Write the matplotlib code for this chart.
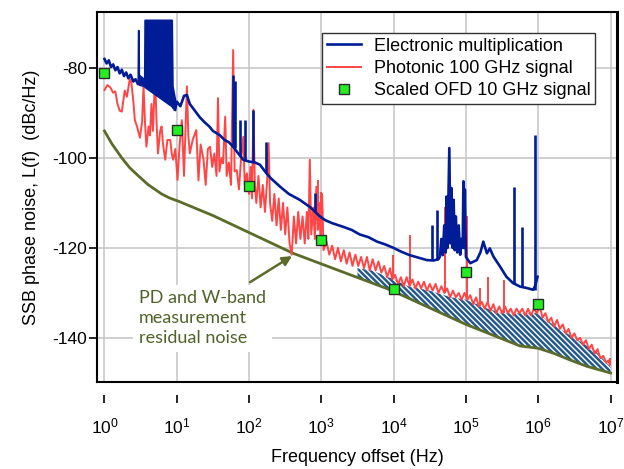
import numpy as np
import matplotlib
matplotlib.use("Agg")
import matplotlib.pyplot as plt

plt.rcParams['font.family'] = ['Liberation Sans', 'DejaVu Sans']
plt.rcParams['mathtext.fontset'] = 'custom'
plt.rcParams['mathtext.rm'] = 'Liberation Sans'
plt.rcParams['mathtext.it'] = 'Liberation Sans:italic'
plt.rcParams['axes.unicode_minus'] = False
plt.rcParams['hatch.linewidth'] = 1.8

# ---- data (log10 of offset frequency in Hz, phase noise in dBc/Hz) ----
blue_logf = [0.00, 0.03, 0.06, 0.09, 0.12, 0.15, 0.18, 0.21, 0.24, 0.27, 0.30, 0.33, 0.36, 0.40, 0.43, 0.46,
             0.975, 1.00, 1.05, 1.10, 1.14, 1.18, 1.25, 1.32, 1.40, 1.45, 1.50, 1.55, 1.60, 1.66, 1.72, 1.78,
             1.85, 1.92, 2.00, 2.08, 2.15, 2.24, 2.30, 2.43, 2.55, 2.70, 2.85, 2.98, 3.05, 3.15, 3.30, 3.42,
             3.53, 3.65, 3.77, 3.88, 4.00, 4.10, 4.22, 4.35, 4.46, 4.55, 4.62, 4.64, 4.66, 4.68, 4.70, 4.72,
             4.73, 4.745, 4.77, 4.785, 4.80, 4.815, 4.83, 4.845, 4.86, 4.88, 4.90, 4.92, 4.94, 4.955, 4.965,
             4.975, 4.985, 5.00, 5.06, 5.15, 5.20, 5.24, 5.29, 5.33, 5.38, 5.47, 5.56, 5.65, 5.75, 5.84, 5.93,
             5.955, 5.99]
blue_db = [-78.0, -79.0, -78.3, -79.8, -79.2, -80.5, -79.8, -81.2, -80.4, -81.8, -81.0, -82.3, -81.5, -83.0, -82.5, -83.5,
           -89.3, -87.5, -88.5, -86.2, -86.0, -88.0, -89.5, -91.0, -92.3, -93.0, -94.0, -94.5, -95.0, -96.0, -96.5, -97.5,
           -99.0, -100.4, -100.8, -101.0, -101.5, -103.4, -104.5, -106.4, -108.0, -109.3, -111.0, -113.0, -113.8, -114.5, -115.3, -116.0,
           -117.0, -117.6, -118.6, -119.2, -120.0, -120.8, -121.6, -122.2, -122.7, -122.8, -122.5, -121.9, -118.0, -121.6, -115.0, -121.0,
           -108.6, -120.0, -97.8, -119.0, -106.7, -120.0, -109.3, -120.5, -113.0, -121.0, -115.0, -121.5, -118.0, -120.0, -105.2,
           -120.0, -107.0, -122.0, -123.4, -122.7, -121.0, -118.6, -121.2, -120.1, -121.9, -124.1, -126.4, -127.8, -128.6, -128.9, -129.3,
           -128.5, -126.4]

# dense spur cluster of the electronic chain between ~3 and ~9 Hz
band_logf = [0.46, 0.465, 0.47, 0.475, 0.55, 0.555, 0.93, 0.94, 0.975]
band_top = [-83.0, -71.6, -71.6, -81.5, -82.5, -69.3, -69.3, -84.0, -87.0]
band_bot = [-83.5, -83.5, -83.6, -83.7, -84.0, -84.2, -88.5, -88.8, -89.3]

blue_spur_logf = [1.78, 1.80, 1.88, 1.95, 2.05, 2.24, 2.91, 4.53, 4.60, 5.66, 5.78, 5.96]
blue_spur_lo = [-97.5, -97.8, -99.5, -100.6, -101.0, -103.4, -111.8, -122.6, -122.6, -127.8, -128.7, -129.3]
blue_spur_hi = [-81.5, -83.0, -91.6, -91.6, -89.3, -96.4, -107.8, -114.9, -111.6, -106.4, -115.3, -94.9]

red_logf = [0.00, 0.04, 0.08, 0.12, 0.15, 0.18, 0.21, 0.24, 0.28, 0.31, 0.35, 0.37, 0.40, 0.42, 0.45, 0.49,
            0.52, 0.54, 0.56, 0.58, 0.61, 0.63, 0.65, 0.67, 0.70, 0.72, 0.74, 0.77, 0.79, 0.81, 0.84, 0.87,
            0.91, 0.93, 0.95, 0.98, 1.01, 1.04, 1.07, 1.10, 1.14, 1.16, 1.18, 1.22, 1.27, 1.30, 1.33, 1.37,
            1.40, 1.43, 1.46, 1.49, 1.52, 1.55, 1.57, 1.59, 1.62, 1.64, 1.67, 1.69, 1.72, 1.75, 1.78, 1.80,
            1.83, 1.86, 1.89, 1.92, 1.94, 1.97, 2.00, 2.02, 2.04, 2.06, 2.08, 2.10, 2.13, 2.16, 2.19, 2.22,
            2.25, 2.27, 2.29, 2.32, 2.35, 2.38, 2.41, 2.44, 2.47, 2.50, 2.53, 2.56, 2.59, 2.62, 2.65, 2.68,
            2.71, 2.74, 2.77, 2.80, 2.82, 2.84, 2.86, 2.89, 2.91, 2.93, 2.95, 2.97, 2.99, 3.01,
            3.03, 3.07, 3.11, 3.15, 3.19, 3.23, 3.27, 3.31, 3.35, 3.39, 3.43, 3.47, 3.51, 3.55, 3.59, 3.63,
            3.67, 3.71, 3.75, 3.79, 3.83, 3.87, 3.91, 3.95, 3.98, 4.02, 4.06, 4.10, 4.14, 4.18, 4.22, 4.26,
            4.30, 4.34, 4.38, 4.42, 4.46, 4.50, 4.54, 4.58, 4.62, 4.66, 4.70, 4.74, 4.78, 4.82, 4.86, 4.90,
            4.94, 4.98, 5.02, 5.06, 5.10, 5.14, 5.18, 5.22, 5.26, 5.30, 5.34, 5.38, 5.42, 5.46, 5.50, 5.54,
            5.58, 5.62, 5.66, 5.70, 5.74, 5.78, 5.82, 5.86, 5.90, 5.94, 5.98, 6.02, 6.06, 6.10, 6.14, 6.18,
            6.22, 6.26, 6.30, 6.34, 6.38, 6.42, 6.46, 6.50, 6.54, 6.58, 6.62, 6.66, 6.70, 6.74, 6.78, 6.82,
            6.86, 6.90, 6.94, 6.97, 6.99]
red_db = [-84.9, -83.8, -84.3, -85.5, -85.2, -88.0, -89.5, -89.7, -85.0, -86.4, -82.5, -83.0, -87.5, -91.6, -93.0, -95.5,
          -92.0, -84.0, -92.0, -97.5, -93.0, -95.0, -88.0, -94.0, -81.6, -92.0, -99.0, -94.0, -93.0, -97.0, -100.4, -96.0,
          -96.0, -99.0, -100.4, -98.0, -104.9, -97.0, -91.6, -104.0, -84.1, -95.0, -99.0, -96.0, -93.8, -105.0, -97.0, -100.4,
          -106.0, -98.0, -97.5, -102.0, -99.0, -104.0, -86.7, -103.0, -100.0, -101.2, -90.8, -104.0, -101.0, -106.0, -76.0, -103.0,
          -102.7, -107.0, -100.0, -95.3, -106.0, -103.4, -108.0, -102.0, -109.0, -89.3, -106.0, -110.0, -104.0, -111.0, -106.0, -112.0,
          -105.0, -96.7, -110.0, -114.0, -108.0, -115.0, -109.0, -116.0, -110.0, -117.0, -111.0, -119.0, -121.5, -113.0, -119.0, -112.0,
          -118.0, -113.0, -119.0, -112.0, -118.0, -100.4, -117.0, -111.0, -118.0, -106.4, -116.0, -110.0, -119.0, -108.0,
          -120.5, -118.5, -121.5, -119.5, -122.5, -120.0, -123.0, -120.5, -123.5, -121.0, -124.0, -121.5, -124.0, -122.0, -124.5, -122.0,
          -125.0, -122.5, -125.0, -123.0, -125.5, -124.0, -126.5, -124.5, -127.0, -126.0, -128.0, -126.5, -128.5, -126.5, -128.5, -127.0,
          -129.0, -127.5, -129.0, -127.5, -129.5, -128.0, -129.5, -128.0, -130.0, -128.5, -130.0, -129.0, -131.0, -129.5, -131.0, -130.0,
          -131.5, -130.0, -131.5, -130.5, -132.5, -131.0, -133.0, -132.0, -133.5, -132.0, -134.0, -132.5, -134.5, -133.0, -134.5, -133.0,
          -134.5, -133.5, -135.0, -133.5, -134.5, -133.5, -135.0, -133.5, -135.0, -133.5, -134.5, -133.0, -135.5, -134.5, -136.5, -135.5,
          -137.5, -136.0, -138.0, -137.0, -139.0, -138.0, -140.0, -139.0, -140.5, -140.0, -141.5, -140.5, -142.5, -141.5, -143.5, -142.5,
          -144.5, -144.0, -145.5, -145.0, -146.0]

red_spur_logf = [2.95, 3.00, 3.99, 4.23, 4.71, 5.01, 5.19, 5.31, 5.52, 6.99]
red_spur_lo = [-116.0, -119.0, -126.5, -128.5, -130.0, -131.0, -133.0, -132.5, -134.5, -146.0]
red_spur_hi = [-104.9, -107.5, -121.6, -117.1, -110.8, -113.0, -129.0, -126.4, -127.1, -144.4]

green_logf = [0.00, 0.10, 0.24, 0.35, 0.47, 0.60, 0.79, 0.90, 1.02, 1.50, 2.61, 3.95, 5.00, 5.75, 6.00, 6.21, 6.44, 6.67, 7.00]
green_db = [-94.0, -96.8, -100.0, -102.2, -104.0, -105.9, -108.0, -108.9, -109.6, -112.8, -121.2, -129.3, -137.0, -141.8,
            -142.3, -143.4, -144.9, -146.3, -147.8]

ofd_logf = [0, 1, 2, 3, 4, 5, 6]
ofd_db = [-81.2, -93.8, -106.2, -118.2, -129.2, -125.3, -132.4]

hatch_logf = [3.50, 3.70, 3.85, 4.00, 4.20, 4.50, 4.80, 5.00, 5.30, 5.50, 5.75, 6.00, 6.20, 6.50, 6.80, 7.00]
hatch_top = [-124.5, -125.0, -126.0, -127.0, -128.5, -129.5, -131.0, -131.5, -133.5, -134.5, -134.5, -134.5, -137.0, -140.0, -143.0, -146.5]

f = lambda lg: 10 ** np.asarray(lg, dtype=float)

BLUE = '#001c96'
RED = '#ff4545'
OLIVE = '#5b6b2a'
TXT = '#4f6228'

fig = plt.figure(figsize=(6.24, 4.69), dpi=100)
ax = fig.add_axes([0.1554, 0.1855, 0.8333, 0.7889])
ax.set_xscale('log')

# hatched area between residual noise floor and photonic signal
hx = f(hatch_logf)
hbot = np.interp(hatch_logf, green_logf, green_db)
ax.fill_between(hx, hbot, hatch_top, facecolor='white', edgecolor='#24598a',
                hatch='\\' * 6, linewidth=0, zorder=2)

ax.plot(f(green_logf), green_db, color=OLIVE, lw=2.0, zorder=3)

ax.plot(f(red_logf), red_db, color=RED, lw=1.4, zorder=4)
ax.vlines(f(red_spur_logf), red_spur_lo, red_spur_hi, color=RED, lw=1.4, zorder=4)

ax.fill_between(f(band_logf), band_bot, band_top, color=BLUE, lw=1.2, zorder=5)
ax.plot(f(blue_logf[:16]), blue_db[:16], color=BLUE, lw=1.9, zorder=5)
ax.plot(f(blue_logf[16:]), blue_db[16:], color=BLUE, lw=1.9, zorder=5,
        label='Electronic multiplication')
ax.vlines(f(blue_spur_logf), blue_spur_lo, blue_spur_hi, color=BLUE, lw=1.9, zorder=5)

# dummy handle so legend order matches
ax.plot([], [], color=RED, lw=1.4, label='Photonic 100 GHz signal')
ax.plot(f(ofd_logf), ofd_db, ls='none', marker='s', ms=7, mfc='#22ee22', mec='#2b2b2b',
        mew=1.0, zorder=6, label='Scaled OFD 10 GHz signal')

ax.set_xlim(0.787, 1.227e7)
ax.set_ylim(-149.8, -67.56)
ax.set_xticks(f(range(8)))
ax.xaxis.set_minor_locator(matplotlib.ticker.NullLocator())
ax.set_yticks([-80, -100, -120, -140])

ax.grid(True, color='#c8c8c8', lw=1.2, zorder=0)
ax.set_axisbelow(True)

for s in ax.spines.values():
    s.set_linewidth(1.5)
ax.spines['right'].set_linewidth(2.2)
ax.spines['bottom'].set_position(('outward', 9))
ax.spines['bottom'].set_visible(False)
ax.plot([0, 1], [0, 0], transform=ax.transAxes, color='black', lw=1.5, clip_on=False, zorder=7)

ax.tick_params(axis='both', direction='out', length=6, width=1.2, labelsize=12.5, colors='black')
ax.tick_params(axis='y', pad=1)
ax.tick_params(axis='x', pad=10)

ax.set_xlabel('Frequency offset (Hz)', fontsize=13, labelpad=9)
ax.set_ylabel('SSB phase noise, L(f)  (dBc/Hz)', fontsize=13, labelpad=9)

handles, labels = ax.get_legend_handles_labels()
leg = ax.legend(handles, labels, loc='upper right', bbox_to_anchor=(0.958, 0.943),
                borderaxespad=0, fontsize=13, frameon=True, fancybox=False,
                framealpha=1, edgecolor='#333333', handlelength=1.9,
                handletextpad=0.7, labelspacing=0.3, borderpad=0.25)
leg.get_frame().set_linewidth(1.0)
leg.set_zorder(10)

ax.text(10 ** 0.477, -129.4, 'PD and W-band\nmeasurement\nresidual noise', fontsize=13,
        family=['Lato', 'DejaVu Sans'], color=TXT, ha='left', va='top', zorder=6,
        linespacing=1.3, bbox=dict(facecolor='white', edgecolor='none', pad=4))
ax.annotate('', xy=(10 ** 2.594, -121.8), xytext=(10 ** 2.015, -127.6),
            arrowprops=dict(arrowstyle='-|>', color=OLIVE, lw=1.8, mutation_scale=14,
                            shrinkA=0, shrinkB=0), zorder=8)

fig.savefig('out.png', dpi=100)
